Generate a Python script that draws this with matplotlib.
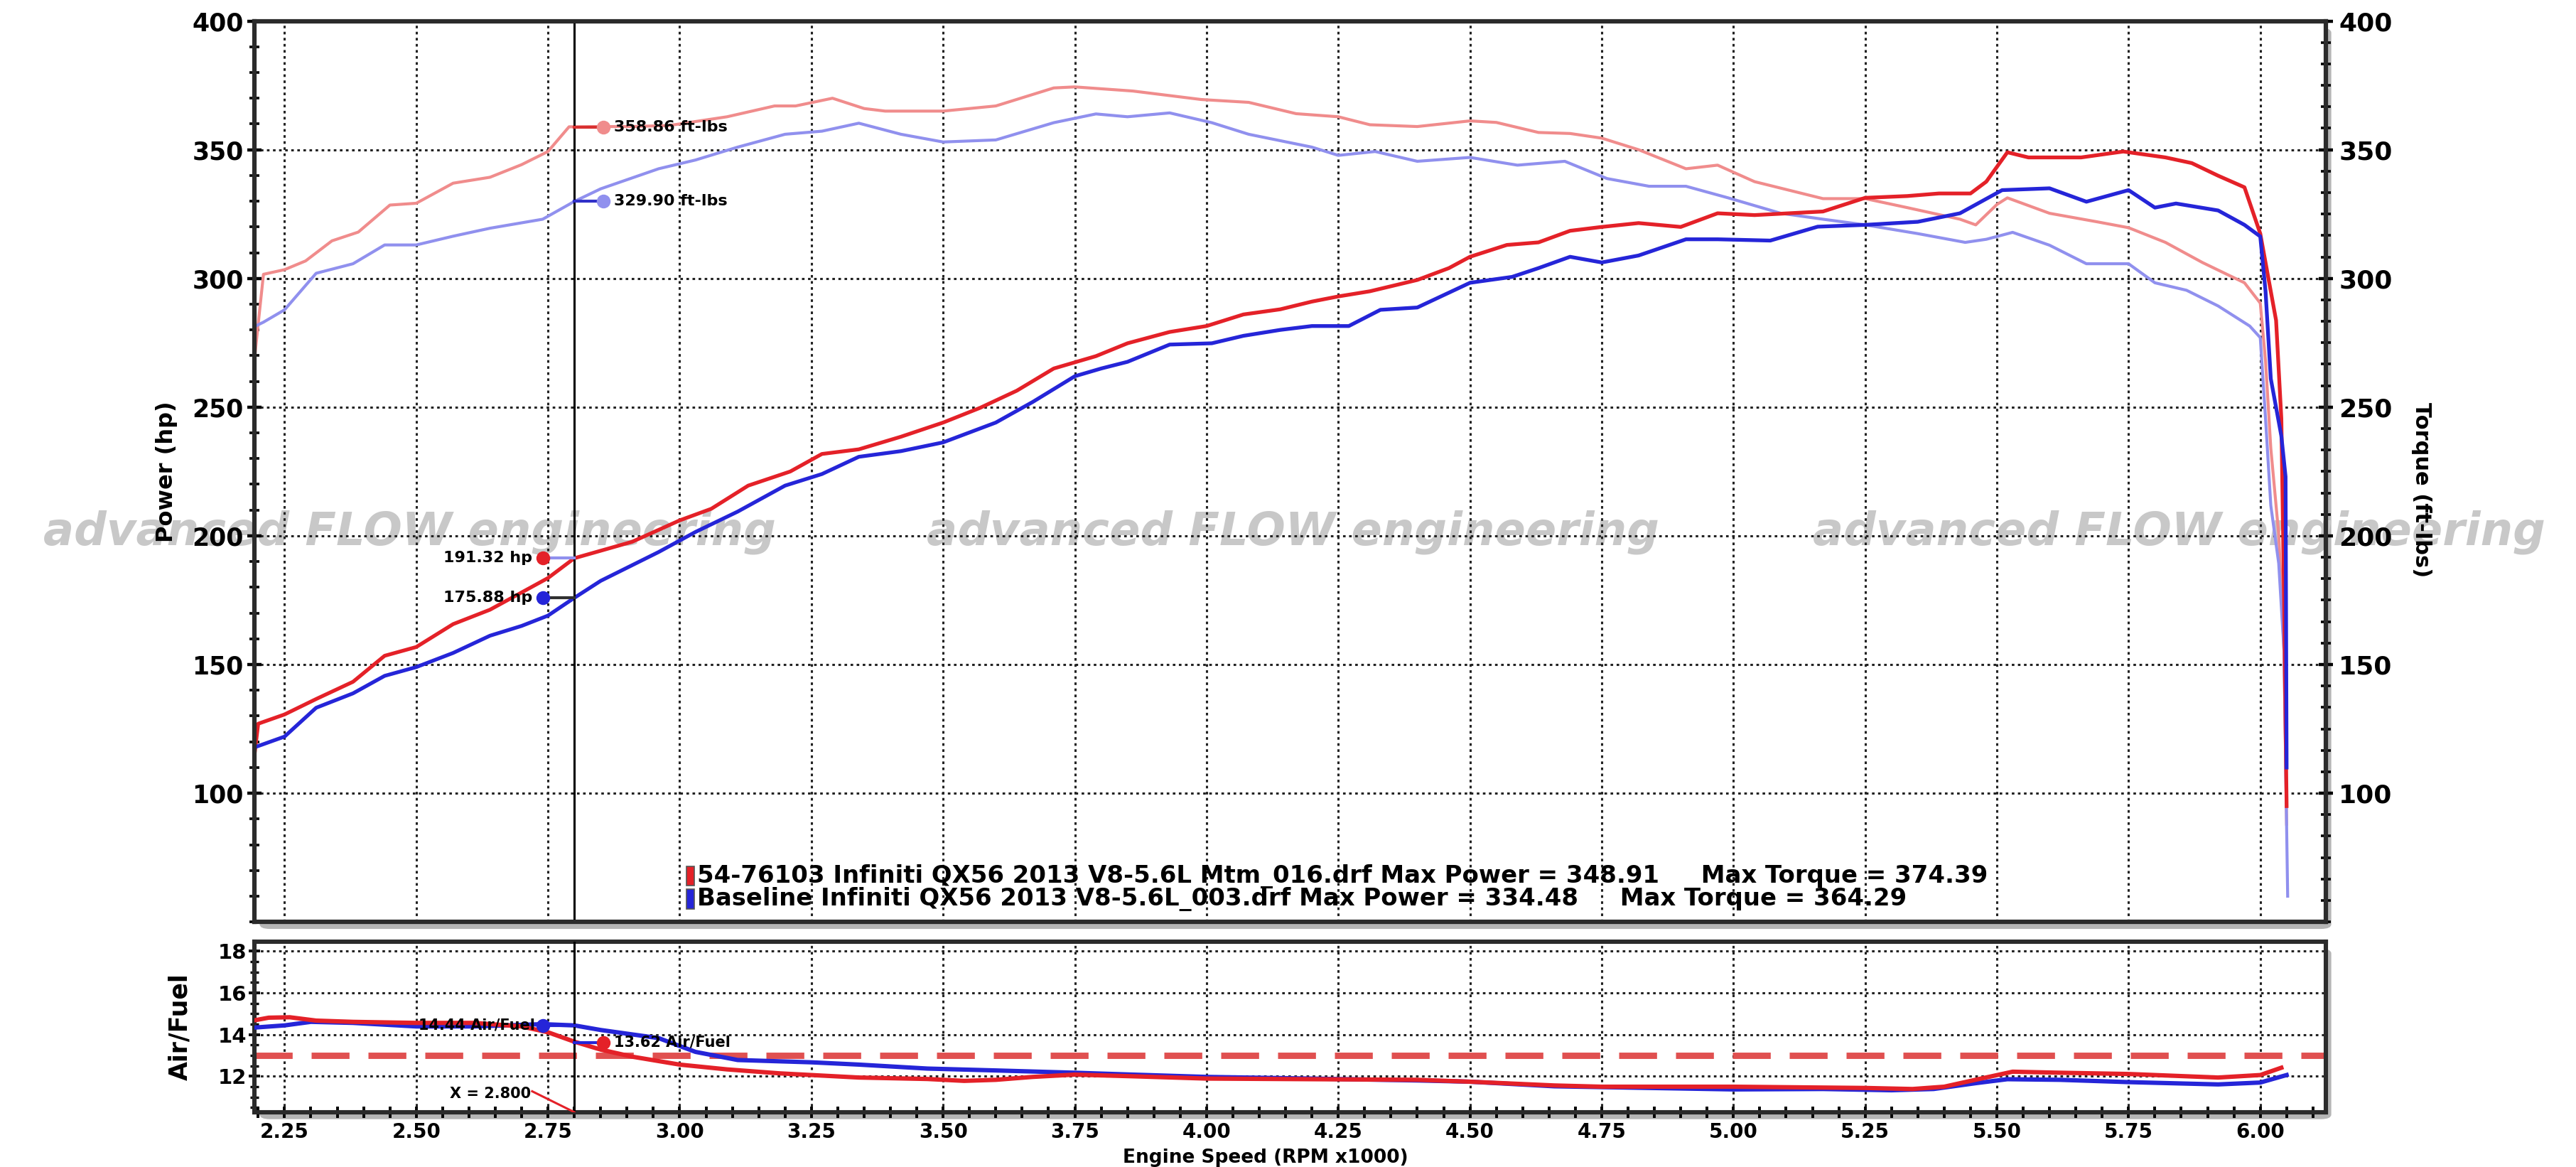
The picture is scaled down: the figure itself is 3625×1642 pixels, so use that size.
import matplotlib.pyplot as plt
from matplotlib.ticker import MultipleLocator, FormatStrFormatter
from matplotlib.patches import FancyBboxPatch, Rectangle

# ---- data (rpm x1000) ----
pw_mod_rpm = [2.19, 2.20, 2.25, 2.31, 2.38, 2.44, 2.50, 2.57, 2.64, 2.70, 2.75, 2.80, 2.85, 2.91,
              3.00, 3.06, 3.13, 3.21, 3.27, 3.34, 3.42, 3.50, 3.57, 3.64, 3.71, 3.79, 3.85, 3.93,
              4.00, 4.07, 4.14, 4.20, 4.25, 4.31, 4.40, 4.46, 4.50, 4.57, 4.63, 4.69, 4.75, 4.82,
              4.90, 4.97, 5.04, 5.17, 5.25, 5.33, 5.39, 5.45, 5.48, 5.52, 5.56, 5.66, 5.74, 5.82,
              5.87, 5.92, 5.97, 6.00, 6.03, 6.04, 6.045, 6.05]
pw_mod = [110, 127, 130.6, 136.6, 143.3, 153.4, 156.8, 165.7, 171.3, 178, 183.6, 191.3, 194.2, 197.7,
          206, 210.5, 219.5, 225, 231.8, 233.6, 238.5, 244, 249.7, 256.4, 265, 269.8, 274.8, 279.2,
          281.5, 286, 288, 291, 293, 295, 299.4, 304, 308.4, 313, 314, 318.5, 320, 321.5,
          320, 325.3, 324.6, 326, 331.3, 332, 333, 333, 337.6, 349, 347, 347, 349.3, 347,
          344.8, 339.9, 335.4, 317.4, 283.7, 245.5, 178, 95]

pw_base_rpm = [2.19, 2.25, 2.31, 2.38, 2.44, 2.50, 2.57, 2.64, 2.70, 2.75, 2.80, 2.85, 2.96, 3.03,
               3.11, 3.20, 3.27, 3.34, 3.42, 3.50, 3.60, 3.67, 3.75, 3.80, 3.85, 3.93, 4.01, 4.07,
               4.14, 4.20, 4.27, 4.33, 4.40, 4.50, 4.58, 4.63, 4.69, 4.75, 4.82, 4.91, 4.97, 5.07,
               5.16, 5.25, 5.35, 5.43, 5.51, 5.60, 5.67, 5.75, 5.80, 5.84, 5.92, 5.97, 6.00, 6.01,
               6.02, 6.04, 6.048, 6.05]
pw_base = [117.6, 122, 133.2, 138.8, 145.6, 149, 154.5, 161.2, 165, 169, 175.9, 182.5, 193.7, 201.5,
           209.4, 219.5, 224, 230.7, 232.9, 236.3, 244, 252, 262, 265, 267.6, 274.3, 274.8, 277.7,
           280, 281.5, 281.5, 287.8, 288.7, 298.3, 300.6, 304, 308.4, 306.2, 308.9, 315.2, 315.2, 314.7,
           320.1, 320.8, 322, 325.3, 334.3, 335, 329.8, 334.3, 327.5, 329.1, 326.4, 320.8, 316.3, 295,
           261, 238.8, 223, 110]

tq_mod_rpm = [2.19, 2.21, 2.25, 2.29, 2.34, 2.39, 2.45, 2.50, 2.57, 2.64, 2.70, 2.75, 2.79, 2.80,
              2.84, 2.91, 2.98, 3.09, 3.18, 3.22, 3.29, 3.35, 3.39, 3.50, 3.60, 3.71, 3.75, 3.86,
              3.99, 4.08, 4.17, 4.25, 4.31, 4.40, 4.50, 4.55, 4.63, 4.69, 4.75, 4.82, 4.91, 4.97,
              5.04, 5.17, 5.25, 5.33, 5.43, 5.46, 5.50, 5.52, 5.60, 5.69, 5.75, 5.82, 5.89, 5.97,
              6.00, 6.01, 6.02, 6.035, 6.045, 6.05]
tq_mod = [263, 301.6, 303.4, 306.8, 314.6, 318, 328.5, 329.2, 337, 339.3, 344.2, 349.3, 358.9, 358.9,
          359, 359, 359.4, 362.8, 367, 367, 370, 366, 365, 365, 367, 374, 374.4, 372.8,
          369.5, 368.4, 364, 362.8, 359.7, 359, 361.2, 360.6, 356.7, 356.3, 354.5, 350, 342.6, 344,
          337.6, 331, 331, 327.5, 323, 320.8, 328.7, 331.3, 325.3, 322, 319.7, 314, 306.2, 298.3,
          290.4, 268, 234, 200.6, 155.6, 88]

tq_base_rpm = [2.19, 2.21, 2.25, 2.31, 2.38, 2.44, 2.50, 2.57, 2.64, 2.74, 2.80, 2.85, 2.96, 3.03,
               3.11, 3.20, 3.27, 3.34, 3.42, 3.50, 3.60, 3.71, 3.79, 3.85, 3.93, 4.01, 4.08, 4.20,
               4.25, 4.32, 4.40, 4.50, 4.59, 4.68, 4.76, 4.84, 4.91, 4.99, 5.09, 5.17, 5.25, 5.35,
               5.44, 5.48, 5.53, 5.60, 5.67, 5.75, 5.80, 5.86, 5.92, 5.98, 6.00, 6.01, 6.02, 6.035,
               6.045, 6.052]
tq_base = [281, 283, 287.8, 302, 305.7, 313, 313, 316.4, 319.5, 323, 329.9, 334.8, 342.6, 346,
           351, 356, 357.2, 360.3, 356, 353, 353.8, 360.5, 363.9, 362.8, 364.3, 360.5, 356, 351,
           347.8, 349.3, 345.5, 347, 344, 345.5, 338.8, 335.8, 335.8, 331.3, 325.3, 323, 320.8, 317.4,
           314, 315.2, 317.9, 312.9, 305.7, 305.7, 298.3, 295.4, 289.3, 281.5, 277, 245.5, 211.8, 189.3,
           155.6, 60]

afr_mod_rpm = [2.19, 2.22, 2.26, 2.31, 2.38, 2.50, 2.61, 2.70, 2.75, 2.80, 2.85, 2.91, 3.00, 3.09,
               3.19, 3.25, 3.34, 3.47, 3.54, 3.60, 3.67, 3.75, 3.86, 4.00, 4.20, 4.40, 4.50, 4.66,
               4.75, 4.91, 5.00, 5.25, 5.34, 5.40, 5.47, 5.53, 5.62, 5.75, 5.92, 6.00, 6.04]
afr_mod = [14.67, 14.81, 14.83, 14.67, 14.61, 14.56, 14.56, 14.39, 14.11, 13.66, 13.28, 12.94, 12.56, 12.33,
           12.14, 12.06, 11.94, 11.87, 11.78, 11.83, 11.97, 12.08, 12.0, 11.89, 11.86, 11.83, 11.74, 11.56,
           11.5, 11.5, 11.5, 11.44, 11.39, 11.5, 11.89, 12.22, 12.17, 12.11, 11.94, 12.06, 12.41]

afr_base_rpm = [2.19, 2.25, 2.30, 2.38, 2.50, 2.61, 2.74, 2.80, 2.85, 2.96, 3.03, 3.11, 3.25, 3.34,
                3.47, 3.60, 3.75, 3.86, 4.00, 4.20, 4.40, 4.50, 4.66, 4.75, 4.91, 5.00, 5.17, 5.30,
                5.38, 5.46, 5.52, 5.62, 5.75, 5.92, 6.00, 6.05]
afr_base = [14.33, 14.44, 14.61, 14.56, 14.39, 14.39, 14.5, 14.44, 14.22, 13.83, 13.17, 12.78, 12.67, 12.56,
            12.37, 12.28, 12.17, 12.08, 11.97, 11.89, 11.8, 11.74, 11.52, 11.48, 11.41, 11.37, 11.39, 11.33,
            11.39, 11.67, 11.86, 11.83, 11.72, 11.61, 11.7, 12.06]

afr_target = 13.0
cursor_rpm = 2.80
cursor_hp = [191.32, 175.88]
cursor_tq = [358.86, 329.90]
cursor_afr = [13.62, 14.44]

run_names = ["54-76103 Infiniti QX56 2013 V8-5.6L Mtm_016.drf", "Baseline Infiniti QX56 2013 V8-5.6L_003.drf"]
max_power = [348.91, 334.48]
max_torque = [374.39, 364.29]

RED = "#e42128"
BLUE = "#2525d8"
LRED = "#f08c8c"
LBLUE = "#9090ee"
FRAME = "#2b2b2b"

fig = plt.figure(figsize=(18.125, 8.21), dpi=200)
fig.patch.set_facecolor("white")

main_box = [0.0988, 0.210, 0.8042, 0.772]
afr_box = [0.0988, 0.047, 0.8042, 0.146]

# soft drop shadows behind both panels
for b in (main_box, afr_box):
    fig.patches.append(FancyBboxPatch((b[0] + 0.002, b[1] - 0.006), b[2], b[3],
                                      boxstyle="round,pad=0,rounding_size=0.004",
                                      transform=fig.transFigure, facecolor="#b5b5b5",
                                      edgecolor="none", zorder=-1))

ax = fig.add_axes(main_box)
ax_r = ax.twinx()
ax2 = fig.add_axes(afr_box, sharex=ax)

xlim = (2.193, 6.125)
grid_kw = dict(color="#222222", linestyle=(0, (1.2, 1.6)), linewidth=1.1)

# ---- main panel ----
ax.plot(tq_mod_rpm, tq_mod, color=LRED, lw=1.5, zorder=3)
ax.plot(tq_base_rpm, tq_base, color=LBLUE, lw=1.5, zorder=3)
ax.plot(pw_mod_rpm, pw_mod, color=RED, lw=1.9, zorder=4)
ax.plot(pw_base_rpm, pw_base, color=BLUE, lw=1.9, zorder=4)

ax.set_xlim(*xlim)
ax.set_ylim(50, 400)
ax_r.set_ylim(50, 400)
ax.set_yticks(range(100, 401, 50))
ax_r.set_yticks(range(100, 401, 50))
ax.yaxis.set_minor_locator(MultipleLocator(10))
ax_r.yaxis.set_minor_locator(MultipleLocator(50 / 6))
ax.xaxis.set_major_locator(MultipleLocator(0.25))
ax.grid(True, which="major", **grid_kw)
ax.tick_params(axis="x", which="both", bottom=False, labelbottom=False)
ax.tick_params(axis="y", which="major", direction="inout", length=7, width=1.6, labelsize=12.5, pad=2)
ax.tick_params(axis="y", which="minor", direction="inout", length=5, width=1.3)
ax_r.tick_params(axis="y", which="major", direction="inout", length=7, width=1.6, labelsize=13, pad=3)
ax_r.tick_params(axis="y", which="minor", direction="inout", length=5, width=1.3)
for t in ax.get_yticklabels() + ax_r.get_yticklabels():
    t.set_fontweight("bold")

ax.set_ylabel("Power (hp)", fontsize=11.5, fontweight="bold")
ax.yaxis.set_label_coords(-0.037, 0.50)
ax_r.set_ylabel("Torque (ft-lbs)", fontsize=11, fontweight="bold", rotation=270, va="center")
ax_r.yaxis.set_label_coords(1.046, 0.48)

for a in (ax, ax_r, ax2):
    for s in a.spines.values():
        s.set_linewidth(2.2)
        s.set_color(FRAME)

# cursor line across both panels
ax.axvline(cursor_rpm, color="black", lw=1.1, zorder=5)
ax2.axvline(cursor_rpm, color="black", lw=1.1, zorder=5)

# torque cursor read-outs
for val, lc, mc in zip(cursor_tq, ["#d83030", "#3030c8"], [LRED, LBLUE]):
    ax.plot([cursor_rpm, cursor_rpm + 0.055], [val, val], color=lc, lw=1.5, zorder=6)
    ax.plot(cursor_rpm + 0.055, val, "o", color=mc, ms=6, zorder=7)
    ax.text(cursor_rpm + 0.075, val, f"{val:.2f} ft-lbs", fontsize=8, fontweight="bold",
            va="center", ha="left", zorder=7)

# power cursor read-outs
for val, lc, mc in zip(cursor_hp, [LBLUE, "#303030"], [RED, BLUE]):
    ax.plot([cursor_rpm - 0.06, cursor_rpm], [val, val], color=lc, lw=1.5, zorder=6)
    ax.plot(cursor_rpm - 0.06, val, "o", color=mc, ms=6, zorder=7)
    ax.text(cursor_rpm - 0.08, val, f"{val:.2f} hp", fontsize=8, fontweight="bold",
            va="center", ha="right", zorder=7)

# watermark (sits under the tick labels, like the original)
for xc in (0.159, 0.502, 0.846):
    ax.text(xc, 0.544, "advanced FLOW engineering", transform=fig.transFigure, fontsize=23,
            fontstyle="oblique", fontweight="bold", color="#c8c8c8", ha="center", va="center",
            zorder=1, clip_on=False)

# legend block
for i, (name, mp, mt, c) in enumerate(zip(run_names, max_power, max_torque, [RED, BLUE])):
    yy = 0.051 - i * 0.0255
    ax.add_patch(Rectangle((0.2085, yy - 0.011), 0.0038, 0.022, transform=ax.transAxes,
                           facecolor=c, edgecolor="#555555", lw=0.6, zorder=7))
    ax.text(0.2137, yy, f"{name} Max Power = {mp:.2f}     Max Torque = {mt:.2f}",
            transform=ax.transAxes, fontsize=12.2, fontweight="bold", va="center", ha="left",
            zorder=7)

# ---- air/fuel panel ----
ax2.axhline(afr_target, color="#e05050", lw=3.2, dashes=(6, 3), zorder=2)
ax2.plot(afr_mod_rpm, afr_mod, color=RED, lw=2.2, zorder=4)
ax2.plot(afr_base_rpm, afr_base, color=BLUE, lw=2.2, zorder=3)
ax2.set_ylim(10.28, 18.45)
ax2.set_xlim(*xlim)
ax2.set_yticks([12, 14, 16, 18])
ax2.yaxis.set_minor_locator(MultipleLocator(0.5))
ax2.xaxis.set_major_locator(MultipleLocator(0.25))
ax2.xaxis.set_minor_locator(MultipleLocator(0.05))
ax2.xaxis.set_major_formatter(FormatStrFormatter("%.2f"))
ax2.grid(True, which="major", **grid_kw)
ax2.tick_params(axis="x", which="both", direction="inout", length=6, width=1.4, labelsize=10, pad=2)
ax2.tick_params(axis="y", which="major", direction="inout", length=6, width=1.4, labelsize=10.5, pad=1)
ax2.tick_params(axis="y", which="minor", direction="inout", length=4, width=1.2)
for t in ax2.get_xticklabels() + ax2.get_yticklabels():
    t.set_fontweight("bold")
ax2.set_ylabel("Air/Fuel", fontsize=12.5, fontweight="bold")
ax2.yaxis.set_label_coords(-0.030, 0.5)
ax2.set_xlabel("Engine Speed (RPM x1000)", fontsize=9.5, fontweight="bold")
ax2.xaxis.set_label_coords(0.488, -0.215)

# AFR cursor read-outs
ax2.plot([cursor_rpm, cursor_rpm + 0.055], [cursor_afr[0]] * 2, color=BLUE, lw=1.5, zorder=6)
ax2.plot(cursor_rpm + 0.055, cursor_afr[0], "o", color=RED, ms=6, zorder=7)
ax2.text(cursor_rpm + 0.075, cursor_afr[0], f"{cursor_afr[0]:.2f} Air/Fuel", fontsize=7.5,
         fontweight="bold", va="center", ha="left", zorder=7)
ax2.plot([cursor_rpm - 0.06, cursor_rpm], [cursor_afr[1]] * 2, color=BLUE, lw=1.5, zorder=6)
ax2.plot(cursor_rpm - 0.06, cursor_afr[1], "o", color=BLUE, ms=6, zorder=7)
ax2.text(cursor_rpm - 0.075, cursor_afr[1], f"{cursor_afr[1]:.2f} Air/Fuel", fontsize=7.5,
         fontweight="bold", va="center", ha="right", zorder=7)
ax2.plot([cursor_rpm - 0.08, cursor_rpm], [11.28, 10.28], color=RED, lw=1.1, zorder=6)
ax2.text(cursor_rpm - 0.082, 11.15, f"X = {cursor_rpm:.3f}", fontsize=7.5, fontweight="bold",
         va="center", ha="right", zorder=7)

fig.savefig("out.png", dpi=200)
